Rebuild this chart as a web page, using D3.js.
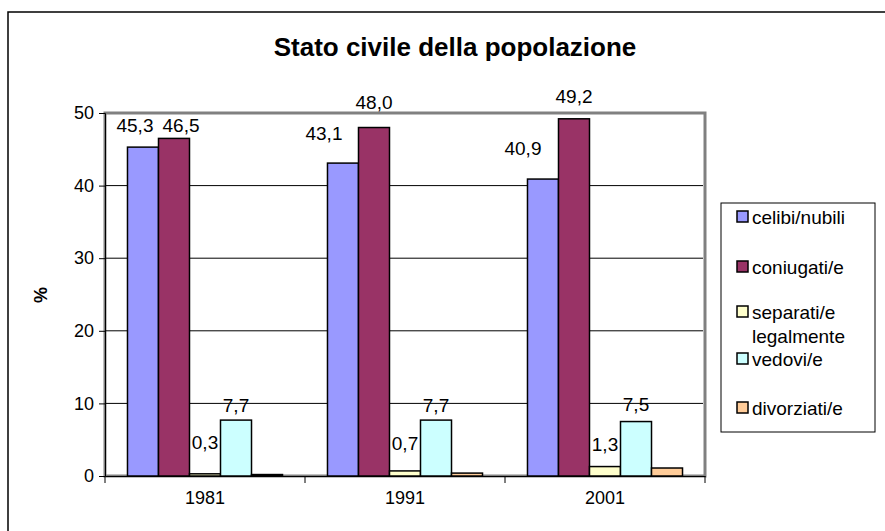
<!DOCTYPE html>
<html><head><meta charset="utf-8">
<script src="https://cdn.jsdelivr.net/npm/d3@7"></script>
<style>
html,body{margin:0;padding:0;background:#fff;}
svg{display:block;font-family:"Liberation Sans",Arial,sans-serif;}
</style></head>
<body><svg id="chart" width="885" height="531"></svg>
<script>
// ---- data ----
const years = ["1981", "1991", "2001"];
const seriesNames = ["celibi/nubili", "coniugati/e", "separati/e legalmente", "vedovi/e", "divorziati/e"];
const celibi = [45.3, 43.1, 40.9];
const coniugati = [46.5, 48.0, 49.2];
const separati = [0.3, 0.7, 1.3];
const vedovi = [7.7, 7.7, 7.5];
const divorziati = [0.2, 0.4, 1.1];
const yTicks = [0, 10, 20, 30, 40, 50];
const labelledSeries = [true, true, true, true, false];

// ---- styles / layout ----
const colors = ["#9999FF", "#993366", "#FFFFCC", "#CCFFFF", "#FFCC99"];
const labelNudge = { // [dx, dy] in px for data labels, per series then year
  0: [[-8, -22], [-19, -30], [-20, -31]],
  1: [[7, -13], [0, -25], [0, -22]],
  2: [[0, -31], [0, -28], [0, -22]],
  3: [[0, -15], [0, -15], [0, -17]]
};
const values = [celibi, coniugati, separati, vedovi, divorziati];
const svg = d3.select("#chart");
const FS_TICK = 18, FS_LAB = 19, FS_LEG = 19, FS_TITLE = 26;
const plot = {left: 105, right: 705, top: 113, bottom: 476};

// outer frame
svg.append("rect").attr("x", 8).attr("y", 12).attr("width", 1000).attr("height", 600)
  .attr("fill", "#fff").attr("stroke", "#000").attr("stroke-width", 1.5);

svg.append("text").attr("x", 455).attr("y", 56).attr("text-anchor", "middle")
  .attr("font-weight", "bold").attr("font-size", FS_TITLE).text("Stato civile della popolazione");

const x0 = d3.scaleBand().domain(years).range([plot.left, plot.right]).padding(0);
const x1 = d3.scaleBand().domain(d3.range(5)).range([0, x0.bandwidth()]).paddingInner(0).paddingOuter(0.725);
const y = d3.scaleLinear().domain([0, 50]).range([plot.bottom, plot.top]);

// plot area border
svg.append("rect").attr("x", plot.left).attr("y", plot.top)
  .attr("width", plot.right - plot.left).attr("height", plot.bottom - plot.top)
  .attr("fill", "#fff").attr("stroke", "#808080").attr("stroke-width", 3);

// gridlines
svg.append("g").selectAll("line").data(yTicks.filter(t => t > 0 && t < 50)).join("line")
  .attr("x1", plot.left).attr("x2", plot.right - 2)
  .attr("y1", d => y(d)).attr("y2", d => y(d))
  .attr("stroke", "#000").attr("stroke-width", 1);

// bars
const groups = svg.append("g").selectAll("g").data(years).join("g")
  .attr("transform", d => `translate(${x0(d)},0)`);
groups.each(function(yr, yi) {
  d3.select(this).selectAll("rect").data(values.map((s, si) => ({si, v: s[yi]}))).join("rect")
    .attr("x", d => x1(d.si)).attr("width", x1.bandwidth())
    .attr("y", d => y(d.v)).attr("height", d => y(0) - y(d.v))
    .attr("fill", d => colors[d.si]).attr("stroke", "#000").attr("stroke-width", 1.5);
});

// data labels
const fmt = v => d3.format(".1f")(v).replace(".", ",");
years.forEach((yr, yi) => {
  values.forEach((s, si) => {
    if (!labelledSeries[si]) return;
    const nd = labelNudge[si][yi];
    svg.append("text")
      .attr("x", x0(yr) + x1(si) + x1.bandwidth() / 2 + nd[0])
      .attr("y", y(s[yi]) + nd[1])
      .attr("dy", "0.35em").attr("text-anchor", "middle").attr("font-size", FS_LAB)
      .text(fmt(s[yi]));
  });
});

// axes
const yAxis = d3.axisLeft(y).tickValues(yTicks).tickSize(6).tickPadding(5);
const gy = svg.append("g").attr("transform", `translate(${plot.left},0)`).call(yAxis);
gy.select(".domain").attr("stroke", "#000");
gy.selectAll("text").attr("font-size", FS_TICK).attr("font-family", "Liberation Sans, Arial, sans-serif").attr("fill", "#000");

const xAxis = d3.axisBottom(x0).tickSize(0).tickPadding(15);
const gx = svg.append("g").attr("transform", `translate(0,${plot.bottom})`).call(xAxis);
gx.select(".domain").attr("stroke", "#000");
gx.selectAll("text").attr("font-size", FS_TICK).attr("font-family", "Liberation Sans, Arial, sans-serif").attr("fill", "#000");
// category boundary ticks
const bounds = years.map(d => x0(d)).concat([x0(years[years.length - 1]) + x0.bandwidth()]);
gx.selectAll("line.bt").data(bounds).join("line").attr("class", "bt")
  .attr("x1", d => d).attr("x2", d => d).attr("y1", 0).attr("y2", 7).attr("stroke", "#000");

// y title
svg.append("text").attr("transform", "translate(47,295) rotate(-90)")
  .attr("text-anchor", "middle").attr("font-weight", "bold").attr("font-size", FS_TICK).text("%");

// legend
const lg = svg.append("g");
lg.append("rect").attr("x", 721).attr("y", 203).attr("width", 154).attr("height", 229)
  .attr("fill", "#fff").attr("stroke", "#000").attr("stroke-width", 1);
const legY = [217, 267, 312, 359, 408];
seriesNames.forEach((n, i) => {
  lg.append("rect").attr("x", 737).attr("y", legY[i] - 6).attr("width", 11).attr("height", 11)
    .attr("fill", colors[i]).attr("stroke", "#000").attr("stroke-width", 1.5);
  const t = lg.append("text").attr("x", 752).attr("y", legY[i]).attr("font-size", FS_LEG);
  const parts = n === "separati/e legalmente" ? ["separati/e", "legalmente"] : [n];
  parts.forEach((p, k) => t.append("tspan").attr("x", 752).attr("dy", k === 0 ? "0.35em" : "1.3em").text(p));
});
</script></body></html>
